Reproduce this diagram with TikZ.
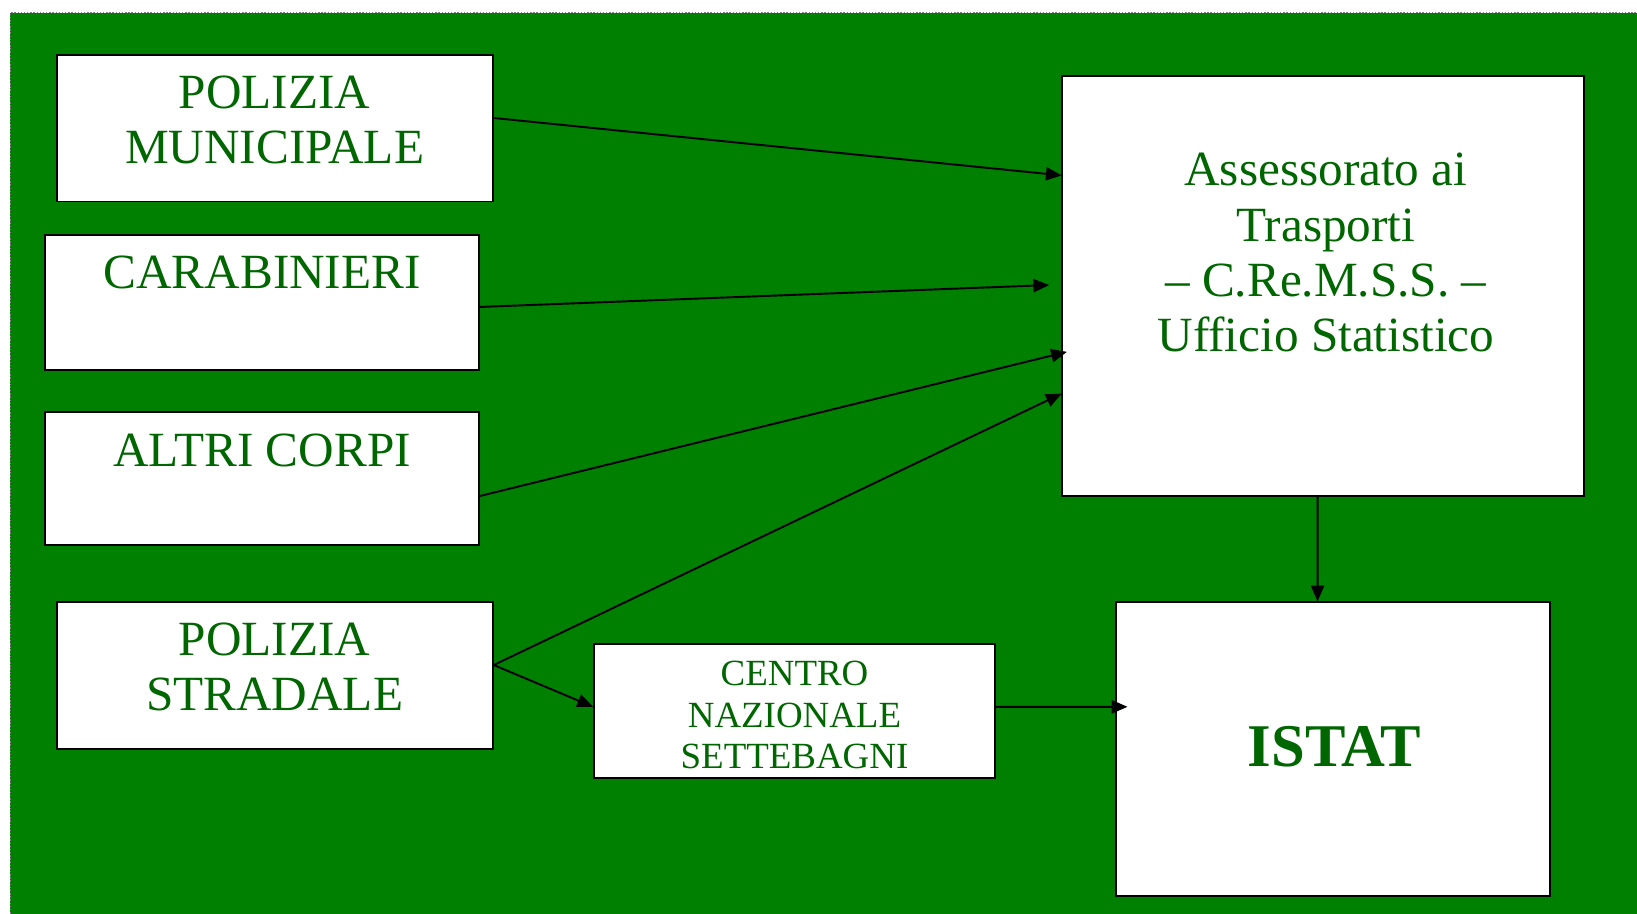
\documentclass[tikz,border=0pt]{standalone}
\usepackage{fontspec}
\setmainfont{Liberation Serif}
\usetikzlibrary{arrows.meta,calc}
\definecolor{bggreen}{RGB}{0,128,0}
\definecolor{txtgreen}{RGB}{0,102,0}
\begin{document}
\begin{tikzpicture}[x=0.02088cm,y=-0.02088cm,
  box/.style={draw=black,fill=white,line width=1.1pt,inner sep=0pt},
  lbl/.style={text=txtgreen,align=center,inner sep=0pt,font=\fontsize{28}{31.4}\selectfont},
  slbl/.style={text=txtgreen,align=center,inner sep=0pt,font=\fontsize{21}{23.7}\selectfont},
  conn/.style={line width=1.1pt,-{Triangle[length=9pt,width=7.5pt]}}]
\useasboundingbox (0,0) rectangle (1568,875);
\fill[bggreen] (10,12) rectangle (1568,875);
\draw[gray,densely dotted,line width=0.8pt] (10,875) -- (10,12) -- (1568,12);
% boxes
\node[box,minimum width=417*0.02088cm,minimum height=140*0.02088cm] (pm) at (263.5,123) {};
\node[box,minimum width=416*0.02088cm,minimum height=129*0.02088cm] (car) at (251,289.5) {};
\node[box,minimum width=416*0.02088cm,minimum height=127*0.02088cm] (alt) at (251,458.5) {};
\node[box,minimum width=417*0.02088cm,minimum height=140*0.02088cm] (ps) at (263.5,647) {};
\node[box,minimum width=384*0.02088cm,minimum height=128*0.02088cm] (cen) at (761,681) {};
\node[box,minimum width=500*0.02088cm,minimum height=402*0.02088cm] (ass) at (1267,274) {};
\node[box,minimum width=416*0.02088cm,minimum height=281*0.02088cm] (ist) at (1277,717.5) {};
% labels
\node[lbl] (pmt) at (263,115) {POLIZIA\\MUNICIPALE};
\node[lbl] (cart) at (251,261) {CARABINIERI};
\node[lbl] (altt) at (251,431) {ALTRI CORPI};
\node[lbl] (pst) at (263,639) {POLIZIA\\STRADALE};
\node[slbl] (cent) at (761,685) {CENTRO\\NAZIONALE\\SETTEBAGNI};
\node[lbl] (asst) at (1270,242) {Assessorato ai\\Trasporti\\– C.Re.M.S.S. –\\Ufficio Statistico};
\node[text=txtgreen,inner sep=0pt,font=\fontsize{34.5}{38}\selectfont\bfseries] (istt) at (1278,715) {ISTAT};
% arrow ends
\coordinate (e1) at (1017,168);
\coordinate (e2) at (1005,273);
\coordinate (e3) at (1022,337);
\coordinate (e4) at (1017,377);
\coordinate (e6) at (1080,677);
\draw[conn] ([yshift=0.2088cm]pm.east) -- (e1);
\draw[conn] ([yshift=-0.094cm]car.east) -- (e2);
\draw[conn] ([yshift=-0.345cm]alt.east) -- (e3);
\draw[conn] ([yshift=0.2088cm]ps.east) -- (e4);
\draw[conn] ([yshift=0.2088cm]ps.east) -- ([yshift=0.0835cm]cen.west);
\draw[conn] ([yshift=0.0835cm]cen.east) -- (e6);
\draw[conn] ([xshift=-0.1044cm]ass.south) -- ([xshift=-0.313cm]ist.north);
\end{tikzpicture}
\end{document}
